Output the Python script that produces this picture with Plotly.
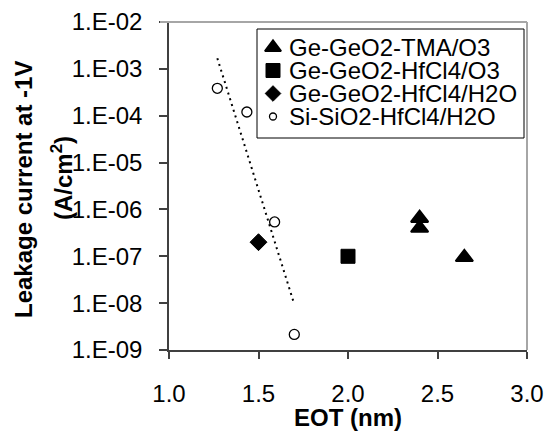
import numpy as np
import plotly.graph_objects as go

# ---- data -------------------------------------------------------------
tma_o3_eot = [2.40, 2.40, 2.65]
tma_o3_leak = [6.5e-7, 4.0e-7, 9.5e-8]

hfcl4_o3_eot = [2.00]
hfcl4_o3_leak = [1.0e-7]

hfcl4_h2o_eot = [1.50]
hfcl4_h2o_leak = [2.0e-7]

si_eot = [1.27, 1.435, 1.59, 1.70]
si_leak = [3.85e-4, 1.2e-4, 5.4e-7, 2.15e-9]

y_tick_vals = [1e-2, 1e-3, 1e-4, 1e-5, 1e-6, 1e-7, 1e-8, 1e-9]
y_tick_text = ["1.E-02", "1.E-03", "1.E-04", "1.E-05", "1.E-06", "1.E-07", "1.E-08", "1.E-09"]
x_tick_vals = [1.0, 1.5, 2.0, 2.5, 3.0]

legend_labels = ["Ge-GeO2-TMA/O3", "Ge-GeO2-HfCl4/O3", "Ge-GeO2-HfCl4/H2O", "Si-SiO2-HfCl4/H2O"]

# ---- exponential trendline through the Si points ----------------------
slope, intercept = np.polyfit(si_eot, np.log10(si_leak), 1)
trend_x = np.array([min(si_eot), max(si_eot)])
trend_y = 10 ** (intercept + slope * trend_x)

# ---- geometry (pixels) -----------------------------------------------
W, H = 546, 431
L, R, T, B = 169, 19, 22, 81
PW, PH = W - L - R, H - T - B


def px(x):
    return (x - L) / PW


def py(y):
    return (H - B - y) / PH


FONT = "Liberation Sans, Arial, sans-serif"
AXIS_DARK = "#404040"
FRAME_GREY = "#a6a6a6"

tri = dict(symbol="triangle-up", size=15, color="black", line=dict(color="black", width=2))
sq = dict(symbol="square", size=14, color="black", line=dict(color="black", width=1))
dia = dict(symbol="diamond", size=13, color="black", line=dict(color="black", width=1))
circ = dict(symbol="circle", size=10, color="white", line=dict(color="black", width=1.3))

fig = go.Figure()

fig.add_trace(go.Scatter(x=trend_x, y=trend_y, mode="lines",
                         line=dict(color="black", width=2, dash="2px,4px"),
                         showlegend=False, hoverinfo="skip"))
fig.add_trace(go.Scatter(x=tma_o3_eot, y=tma_o3_leak, mode="markers", marker=tri,
                         name=legend_labels[0], showlegend=False))
fig.add_trace(go.Scatter(x=hfcl4_o3_eot, y=hfcl4_o3_leak, mode="markers", marker=sq,
                         name=legend_labels[1], showlegend=False))
fig.add_trace(go.Scatter(x=hfcl4_h2o_eot, y=hfcl4_h2o_leak, mode="markers", marker=dia,
                         name=legend_labels[2], showlegend=False))
fig.add_trace(go.Scatter(x=si_eot, y=si_leak, mode="markers", marker=circ,
                         name=legend_labels[3], showlegend=False))

# ---- legend box (drawn by hand for tight row spacing) -----------------
leg_x0, leg_x1, leg_y0, leg_y1 = 257, 524, 29, 138
row_y = [47.5, 70.5, 93.5, 116.5]
sym_x = 273
text_x = 287
legend_markers = [
    dict(tri, size=14),
    dict(sq, size=14),
    dict(dia, size=12),
    dict(circ, size=7),
]

fig.add_shape(type="rect", xref="paper", yref="paper",
              x0=px(leg_x0), x1=px(leg_x1), y0=py(leg_y1), y1=py(leg_y0),
              line=dict(color="black", width=1), fillcolor="white", layer="below")

for lab, mk, ry in zip(legend_labels, legend_markers, row_y):
    fig.add_trace(go.Scatter(x=[px(sym_x)], y=[py(ry)], mode="markers", marker=mk,
                             xaxis="x2", yaxis="y2", showlegend=False, hoverinfo="skip"))
    fig.add_annotation(text=lab, xref="paper", yref="paper", x=px(text_x), y=py(ry),
                       xanchor="left", yanchor="middle", showarrow=False,
                       font=dict(family=FONT, size=24, color="black"))

# ---- frame: grey top and right edges ----------------------------------
fig.add_shape(type="line", xref="paper", yref="paper", x0=px(160), x1=1, y0=1, y1=1,
              line=dict(color=FRAME_GREY, width=2))
fig.add_shape(type="line", xref="paper", yref="paper", x0=1, x1=1, y0=0, y1=1,
              line=dict(color=FRAME_GREY, width=2))

# ---- y-axis title (two lines) ----------------------------------------
fig.add_annotation(text="<b>Leakage current at -1V</b>", xref="paper", yref="paper",
                   x=0, y=0.5, xshift=-146, yshift=-4, textangle=-90,
                   xanchor="center", yanchor="middle", showarrow=False,
                   font=dict(family=FONT, size=24, color="black"))
fig.add_annotation(text="<b>(A/cm<sup>2</sup>)</b>", xref="paper", yref="paper",
                   x=0, y=0.5, xshift=-107, yshift=8, textangle=-90,
                   xanchor="center", yanchor="middle", showarrow=False,
                   font=dict(family=FONT, size=24, color="black"))

fig.update_layout(
    width=W, height=H,
    margin=dict(l=L, r=R, t=T, b=B, pad=0, autoexpand=False),
    paper_bgcolor="white", plot_bgcolor="white",
    showlegend=False,
    font=dict(family=FONT, size=24, color="black"),
    xaxis=dict(range=[1, 3], tickvals=x_tick_vals, tickformat=".1f",
               ticks="outside", ticklen=7, tickwidth=1.5, tickcolor=AXIS_DARK,
               showline=True, linecolor=AXIS_DARK, linewidth=1.5,
               showgrid=False, zeroline=False, ticklabelstandoff=14,
               automargin=False,
               tickfont=dict(family=FONT, size=24, color="black"),
               title=dict(text="<b>EOT (nm)</b>", standoff=12,
                          font=dict(family=FONT, size=24, color="black"))),
    yaxis=dict(type="log", range=[-9, -2], tickvals=y_tick_vals, ticktext=y_tick_text,
               ticks="outside", ticklen=8, tickwidth=1.5, tickcolor=AXIS_DARK,
               showline=True, linecolor=AXIS_DARK, linewidth=1.5,
               showgrid=False, zeroline=False, ticklabelstandoff=12,
               automargin=False,
               tickfont=dict(family=FONT, size=24, color="black")),
    xaxis2=dict(overlaying="x", range=[0, 1], visible=False, fixedrange=True),
    yaxis2=dict(overlaying="y", range=[0, 1], visible=False, fixedrange=True),
)

fig.write_html("out.html")
